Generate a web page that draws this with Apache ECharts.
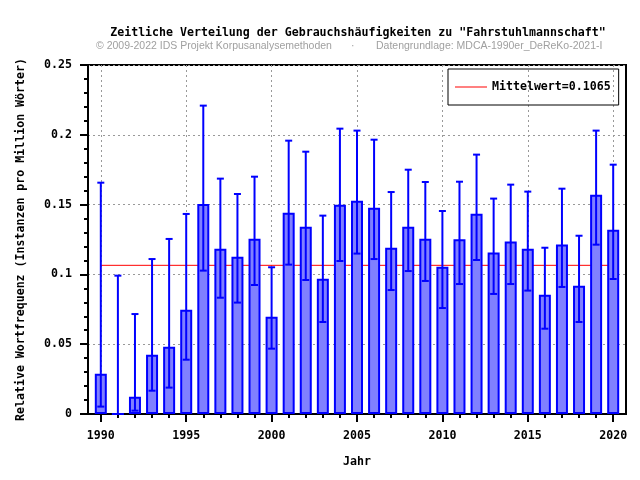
<!DOCTYPE html>
<html>
<head>
<meta charset="utf-8">
<script src="https://cdn.jsdelivr.net/npm/echarts@6/dist/echarts.min.js"></script>
<style>
html,body{margin:0;padding:0;background:#fff;}
#chart{width:640px;height:480px;}
</style>
</head>
<body>
<div id="chart"></div>
<script>
const years = [1990,1991,1992,1993,1994,1995,1996,1997,1998,1999,2000,2001,2002,2003,2004,2005,2006,2007,2008,2009,2010,2011,2012,2013,2014,2015,2016,2017,2018,2019,2020];
const freq = [0.0289,0,0.0124,0.0425,0.0482,0.0747,0.1504,0.1184,0.1127,0.1256,0.0697,0.1442,0.1342,0.0969,0.1499,0.1528,0.1478,0.1191,0.1342,0.1256,0.1055,0.1251,0.1435,0.1156,0.1235,0.1184,0.0855,0.1215,0.0919,0.1571,0.1320];
const errLow = [0.0053,0,0.0024,0.0167,0.0189,0.0389,0.1027,0.0833,0.0798,0.0924,0.0468,0.1070,0.0960,0.0659,0.1096,0.1149,0.1110,0.0888,0.1024,0.0953,0.0759,0.0931,0.1103,0.0860,0.0931,0.0884,0.0611,0.0910,0.0659,0.1213,0.0967];
const errHigh = [0.1657,0.0991,0.0716,0.1110,0.1254,0.1433,0.2209,0.1686,0.1576,0.1700,0.1051,0.1958,0.1879,0.1421,0.2044,0.2030,0.1965,0.1590,0.1750,0.1662,0.1454,0.1664,0.1858,0.1543,0.1643,0.1593,0.1191,0.1614,0.1277,0.2030,0.1786];
const meanValue = [0.1065];
const xTickLabels = [1990,1995,2000,2005,2010,2015,2020];
const titleText = 'Zeitliche Verteilung der Gebrauchshäufigkeiten zu "Fahrstuhlmannschaft"';
const subLeft = '© 2009-2022 IDS Projekt Korpusanalysemethoden';
const subDot = '·';
const subRight = 'Datengrundlage: MDCA-1990er_DeReKo-2021-I';
const yName = 'Relative Wortfrequenz (Instanzen pro Million Wörter)';
const xName = 'Jahr';

const mono = '"DejaVu Sans Mono", "Liberation Mono", monospace';
const sans = '"Liberation Sans", Arial, sans-serif';
const fs = 11.6;
const meanName = 'Mittelwert=' + meanValue[0];

const chart = echarts.init(document.getElementById('chart'), null, {renderer: 'canvas'});
const subStyle = {fontFamily: sans, fontWeight: 'normal', fontSize: 10.5, color: '#a0a0a0'};
const option = {
  animation: false,
  backgroundColor: '#fff',
  title: [
    {text: titleText, left: 358, textAlign: 'center', top: 27, padding: 0,
     textStyle: {fontFamily: mono, fontWeight: 'bold', fontSize: fs, color: '#000'}},
    {text: subLeft, left: 96, top: 41, padding: 0, textStyle: subStyle},
    {text: subDot, left: 351, top: 41, padding: 0, textStyle: subStyle},
    {text: subRight, left: 376, top: 41, padding: 0, textStyle: subStyle}
  ],
  legend: {
    left: 448, top: 69,
    padding: [12, 8, 12, 7],
    borderColor: '#000', borderWidth: 1,
    itemWidth: 32, itemHeight: 1,
    textStyle: {fontFamily: mono, fontWeight: 'bold', fontSize: fs, color: '#000'},
    data: [{name: meanName, icon: 'rect', itemStyle: {color: '#ff0000'}}]
  },
  grid: {left: 88, right: 14, top: 65, bottom: 66, show: true, borderColor: '#000', borderWidth: 2, backgroundColor: 'transparent'},
  xAxis: [
    {
      type: 'value', min: 1989.25, max: 2020.75, position: 'bottom',
      name: xName, nameLocation: 'middle', nameGap: 42,
      nameTextStyle: {fontFamily: mono, fontWeight: 'bold', fontSize: fs, color: '#000'},
      axisLine: {show: true, lineStyle: {color: '#000', width: 2}},
      axisTick: {show: true, inside: false, length: 8, lineStyle: {color: '#000', width: 2}, customValues: xTickLabels},
      axisLabel: {show: true, margin: 16, fontFamily: mono, fontWeight: 'bold', fontSize: fs, color: '#000',
                  customValues: xTickLabels, formatter: v => String(Math.round(v))},
      splitLine: {show: true, lineStyle: {color: '#999', width: 1, type: [2, 3]}},
      minorTick: {show: false}
    },
    {
      type: 'value', min: 1989.25, max: 2020.75, position: 'bottom',
      axisLine: {show: false},
      axisTick: {show: true, inside: false, length: 4, lineStyle: {color: '#000', width: 2}, customValues: years},
      axisLabel: {show: false},
      splitLine: {show: false}
    }
  ],
  yAxis: {
    type: 'value', min: 0, max: 0.25, interval: 0.05,
    name: yName, nameLocation: 'middle', nameGap: 61, nameRotate: 90,
    nameTextStyle: {fontFamily: mono, fontWeight: 'bold', fontSize: fs, color: '#000'},
    axisLine: {show: true, lineStyle: {color: '#000', width: 2}},
    axisTick: {show: true, inside: false, length: 8, lineStyle: {color: '#000', width: 2}},
    minorTick: {show: true, splitNumber: 5, length: 4, lineStyle: {color: '#000', width: 2}},
    axisLabel: {margin: 16, fontFamily: mono, fontWeight: 'bold', fontSize: fs, color: '#000'},
    splitLine: {show: true, lineStyle: {color: '#999', width: 1, type: [2, 3]}}
  },
  series: [
    {
      name: meanName, type: 'line', xAxisIndex: 0, z: 1,
      symbol: 'none', showSymbol: false,
      lineStyle: {color: '#ff0000', width: 1}, itemStyle: {color: '#ff0000'},
      data: [[years[0], meanValue[0]], [years[years.length - 1], meanValue[0]]]
    },
    {
      name: 'freq', type: 'bar', xAxisIndex: 0, z: 2, barWidth: 12,
      itemStyle: {color: '#8080ff', borderColor: '#0000ff', borderWidth: 2},
      data: years.map((y, i) => [y, freq[i]])
    },
    {
      name: 'err', type: 'custom', xAxisIndex: 0, z: 3,
      encode: {x: 0, y: [1, 2]},
      data: years.map((y, i) => [y, errLow[i], errHigh[i]]),
      renderItem: function (params, api) {
        const x = api.value(0), lo = api.value(1), hi = api.value(2);
        const pLo = api.coord([x, lo]);
        const pHi = api.coord([x, hi]);
        const c = 3.5;
        const st = {stroke: '#0000ff', lineWidth: 2};
        const children = [
          {type: 'line', shape: {x1: pLo[0], y1: pLo[1], x2: pHi[0], y2: pHi[1]}, style: st},
          {type: 'line', shape: {x1: pHi[0] - c, y1: pHi[1], x2: pHi[0] + c, y2: pHi[1]}, style: st}
        ];
        if (lo > 0) {
          children.push({type: 'line', shape: {x1: pLo[0] - c, y1: pLo[1], x2: pLo[0] + c, y2: pLo[1]}, style: st});
        }
        return {type: 'group', children: children};
      }
    }
  ]
};
chart.setOption(option);
</script>
</body>
</html>
